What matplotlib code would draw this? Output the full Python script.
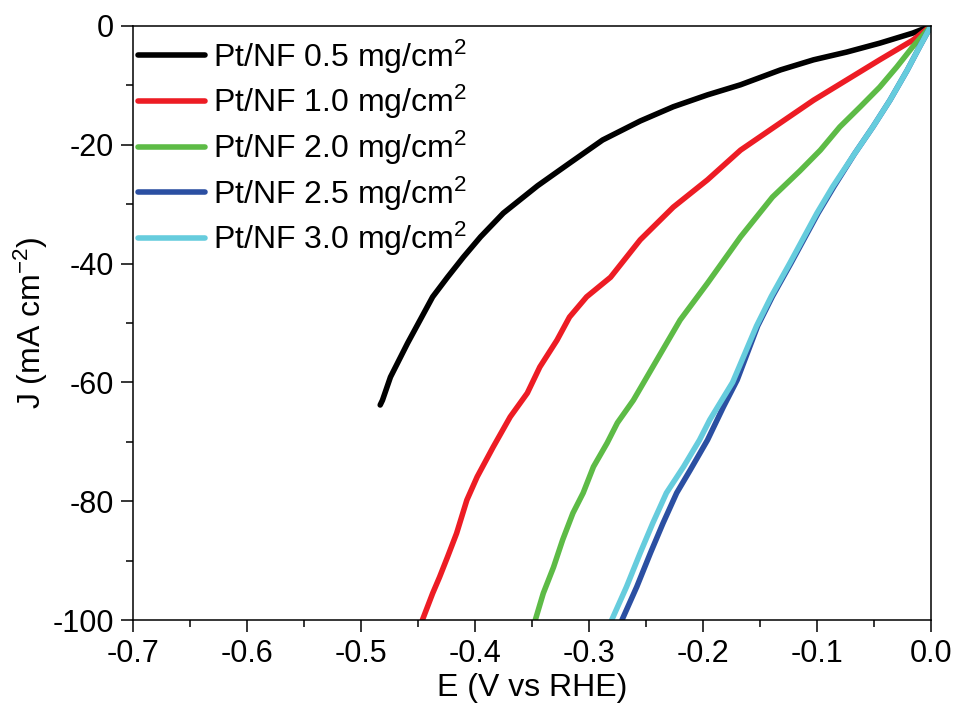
import numpy as np
import matplotlib
matplotlib.use("Agg")
import matplotlib.pyplot as plt
from matplotlib.ticker import MultipleLocator, FormatStrFormatter

plt.rcParams['font.family'] = ['Liberation Sans', 'DejaVu Sans']
plt.rcParams['mathtext.fontset'] = 'custom'
plt.rcParams['mathtext.rm'] = 'Liberation Sans'
plt.rcParams['mathtext.it'] = 'Liberation Sans'
plt.rcParams['axes.unicode_minus'] = False

# LSV curves (E in V vs RHE, J in mA cm-2)
e_05 = [0, -0.016, -0.045, -0.074, -0.103, -0.132, -0.167, -0.196, -0.226, -0.255, -0.288,
        -0.317, -0.345, -0.375, -0.395, -0.410, -0.424, -0.437, -0.448, -0.459, -0.474, -0.481, -0.483]
j_05 = [0, -1.2, -2.9, -4.4, -5.7, -7.4, -9.9, -11.6, -13.6, -16.0, -19.2,
        -23.1, -26.9, -31.5, -35.5, -38.9, -42.3, -45.6, -49.5, -53.4, -59.1, -63.0, -63.8]

e_10 = [0, -0.016, -0.045, -0.074, -0.103, -0.132, -0.167, -0.196, -0.226, -0.255, -0.281, -0.302,
        -0.317, -0.328, -0.343, -0.354, -0.369, -0.384, -0.398, -0.407, -0.416, -0.424, -0.431,
        -0.437, -0.446]
j_10 = [0, -2.4, -5.7, -9.1, -12.5, -16.3, -20.9, -25.9, -30.5, -36.0, -42.3, -45.6,
        -49.0, -52.9, -57.4, -61.8, -65.8, -70.9, -75.9, -79.8, -85.4, -89.4, -92.8,
        -95.5, -100]

e_20 = [0, -0.016, -0.030, -0.045, -0.062, -0.080, -0.097, -0.115, -0.139, -0.167, -0.196, -0.220,
        -0.244, -0.261, -0.275, -0.284, -0.296, -0.305, -0.314, -0.323, -0.331, -0.340, -0.347]
j_20 = [0, -3.5, -6.9, -10.3, -13.6, -17.0, -20.9, -24.4, -28.8, -35.5, -43.3, -49.5,
        -57.4, -63.0, -66.8, -70.2, -74.2, -78.6, -82.0, -86.5, -91.1, -95.5, -100]

e_25 = [0, -0.010, -0.021, -0.036, -0.051, -0.067, -0.085, -0.099, -0.123, -0.139, -0.152,
        -0.170, -0.182, -0.196, -0.211, -0.223, -0.235, -0.246, -0.258, -0.271]
j_25 = [0, -3.5, -7.5, -12.5, -17.0, -21.5, -27.0, -31.5, -40.0, -45.5, -50.5,
        -59.6, -64.1, -69.7, -74.7, -78.6, -83.7, -88.7, -94.4, -100]

e_30 = [0, -0.010, -0.021, -0.036, -0.051, -0.067, -0.086, -0.100, -0.124, -0.140, -0.153,
        -0.174, -0.194, -0.203, -0.217, -0.232, -0.244, -0.255, -0.267, -0.280]
j_30 = [0, -3.5, -7.5, -12.5, -17.0, -21.5, -27.0, -31.5, -40.0, -45.5, -50.5,
        -60.0, -66.3, -69.7, -74.2, -78.6, -83.7, -88.7, -94.4, -100]

labels = ["Pt/NF 0.5 mg/cm$^2$", "Pt/NF 1.0 mg/cm$^2$", "Pt/NF 2.0 mg/cm$^2$",
          "Pt/NF 2.5 mg/cm$^2$", "Pt/NF 3.0 mg/cm$^2$"]
colors = ["#000000", "#ED1C24", "#5DBB46", "#2B4FA2", "#66CCDD"]

fig = plt.figure(figsize=(9.59, 7.21), dpi=100)
ax = fig.add_axes([0.1384, 0.140, 0.8324, 0.824])

for e, j, lab, c in zip([e_05, e_10, e_20, e_25, e_30],
                        [j_05, j_10, j_20, j_25, j_30], labels, colors):
    ax.plot(e, j, color=c, lw=4, label=lab, solid_capstyle='round', solid_joinstyle='round')

ax.set_xlim(-0.7, 0.0)
ax.set_ylim(-100, 0)
ax.xaxis.set_major_locator(MultipleLocator(0.1))
ax.xaxis.set_minor_locator(MultipleLocator(0.05))
ax.yaxis.set_major_locator(MultipleLocator(20))
ax.yaxis.set_minor_locator(MultipleLocator(10))
ax.xaxis.set_major_formatter(FormatStrFormatter('%.1f'))

ax.tick_params(which='major', direction='out', length=8.5, width=1.1, labelsize=22, pad=5)
ax.tick_params(which='minor', direction='out', length=5, width=1.1)
ax.tick_params(top=False, right=False)
for s in ax.spines.values():
    s.set_linewidth(1.1)

ax.set_xlabel("E (V vs RHE)", fontsize=23, labelpad=3)
ax.set_ylabel("J (mA cm$^{-2}$)", fontsize=23, labelpad=2)

ax.legend(loc='upper left', bbox_to_anchor=(-0.005, 0.997), frameon=False, fontsize=23,
          handlelength=2.1, handletextpad=0.25, labelspacing=0.23, borderaxespad=0.25,
          borderpad=0.05)

fig.savefig("out.png", dpi=100)
